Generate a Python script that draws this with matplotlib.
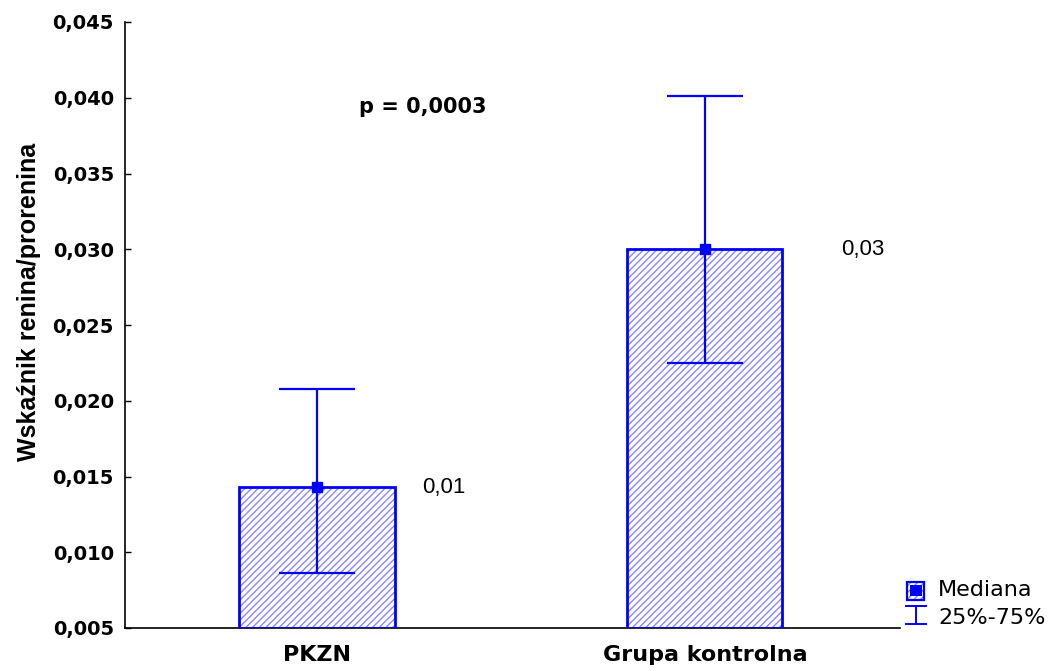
import matplotlib
matplotlib.use("Agg")
import matplotlib.pyplot as plt
from matplotlib.patches import Rectangle
from matplotlib.lines import Line2D
from matplotlib.ticker import FuncFormatter

plt.rcParams['font.family'] = ['Liberation Sans', 'DejaVu Sans']
plt.rcParams['hatch.linewidth'] = 1.0

# Data
groups = ["PKZN", "Grupa kontrolna"]
medians = [0.0143, 0.0300]
q25 = [0.0086, 0.0225]
q75 = [0.0208, 0.0401]
value_labels = ["0,01", "0,03"]
y_ticks = [0.005, 0.010, 0.015, 0.020, 0.025, 0.030, 0.035, 0.040, 0.045]
p_text = "p = 0,0003"

blue = "#0000ff"
hatch_blue = "#8888ff"
label_dx = [0.27, 0.35]

fig = plt.figure(figsize=(10.55, 6.71), dpi=100)
ax = fig.add_axes([125 / 1055, 43 / 671, (900 - 125) / 1055, (628 - 22) / 671])

x = list(range(len(groups)))
width = 0.4

# hatched fill, then blue outline on top
ax.bar(x, [m - 0.005 for m in medians], width=width, bottom=0.005, color="white",
       edgecolor=hatch_blue, hatch="/////", linewidth=0, zorder=2)
ax.bar(x, [m - 0.005 for m in medians], width=width, bottom=0.005, fill=False,
       edgecolor=blue, linewidth=2, zorder=3)

# interquartile range
yerr = [[m - lo for m, lo in zip(medians, q25)], [hi - m for m, hi in zip(medians, q75)]]
ax.errorbar(x, medians, yerr=yerr, fmt="none", ecolor=blue, elinewidth=1.6,
            capsize=27.5, capthick=1.6, zorder=4)
ax.plot(x, medians, "s", color=blue, markersize=7.5, zorder=5)

for xi, m, lab, dx in zip(x, medians, value_labels, label_dx):
    ax.text(xi + dx, m, lab, fontsize=16, va="center", ha="left")

ax.text(0.272, 0.0394, p_text, fontsize=15, fontweight="bold", va="center", ha="center",
        family="DejaVu Sans")

ax.set_xlim(-0.495, 1.503)
ax.set_ylim(0.005, 0.045)
ax.set_xticks(x)
ax.set_xticklabels(groups, fontsize=16, fontweight="bold", family="DejaVu Sans")
ax.set_yticks(y_ticks)
ax.yaxis.set_major_formatter(FuncFormatter(lambda v, _: f"{v:.3f}".replace(".", ",")))
for lab in ax.get_yticklabels():
    lab.set_fontweight("bold")
    lab.set_fontsize(14)
    lab.set_family("DejaVu Sans")
ax.tick_params(axis="y", direction="in", length=4, width=1, pad=8)
ax.tick_params(axis="x", direction="in", length=4, width=1, pad=12)
ax.spines["top"].set_visible(False)
ax.spines["right"].set_visible(False)
for s in ("left", "bottom"):
    ax.spines[s].set_linewidth(1.2)
ax.set_ylabel("Wskaźnik renina/prorenina", fontsize=18, fontweight="bold")
ax.yaxis.set_label_coords(-0.108, 0.538)

# legend drawn in figure pixels
def fx(px):
    return px / 1055

def fy(py):
    return 1 - py / 671

fig.add_artist(Rectangle((fx(907), fy(600)), 17 / 1055, 18 / 671, transform=fig.transFigure,
                         facecolor="white", edgecolor=hatch_blue, hatch="/////", linewidth=0))
fig.add_artist(Rectangle((fx(907), fy(600)), 17 / 1055, 18 / 671, transform=fig.transFigure,
                         fill=False, edgecolor=blue, linewidth=1.6))
fig.add_artist(Rectangle((fx(910), fy(596)), 12 / 1055, 11 / 671, transform=fig.transFigure,
                         facecolor=blue, edgecolor=blue, linewidth=0))
fig.add_artist(Line2D([fx(916), fx(916)], [fy(606), fy(624)], color=blue, linewidth=1.4,
                      transform=fig.transFigure))
fig.add_artist(Line2D([fx(906), fx(926)], [fy(606), fy(606)], color=blue, linewidth=1.4,
                      transform=fig.transFigure))
fig.add_artist(Line2D([fx(906), fx(926)], [fy(624), fy(624)], color=blue, linewidth=1.4,
                      transform=fig.transFigure))
fig.text(fx(938), fy(590), "Mediana", fontsize=16, va="center", ha="left", family="DejaVu Sans")
fig.text(fx(938), fy(618), "25%-75%", fontsize=16, va="center", ha="left", family="DejaVu Sans")

fig.savefig("out.png", dpi=100)
